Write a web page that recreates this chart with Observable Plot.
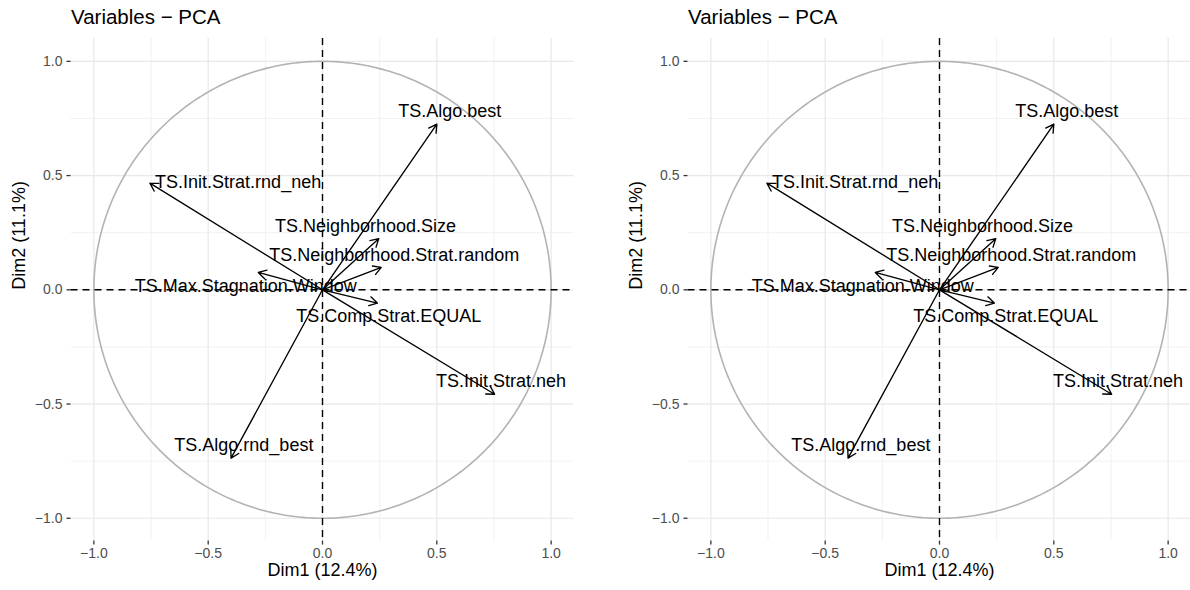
<!DOCTYPE html>
<html>
<head>
<meta charset="utf-8">
<script src="https://cdn.jsdelivr.net/npm/d3@7"></script>
<script src="https://cdn.jsdelivr.net/npm/@observablehq/plot@0.6"></script>
<style>
  html, body { margin: 0; padding: 0; background: #fff; width: 1190px; height: 590px; overflow: hidden; }
  .panel { position: absolute; top: 0; width: 595px; height: 590px; }
  .title { position: absolute; left: 71px; top: 7px; font: 20.5px "Liberation Sans", Arial, sans-serif; line-height: 1; color: #000; white-space: nowrap; }
  .chart { position: absolute; left: 0; top: 30px; }
</style>
</head>
<body>
<div id="root"></div>
<script>
// ---- data ----
const variableNames = [
  "TS.Algo.best",
  "TS.Init.Strat.rnd_neh",
  "TS.Neighborhood.Size",
  "TS.Neighborhood.Strat.random",
  "TS.Max.Stagnation.Window",
  "TS.Comp.Strat.EQUAL",
  "TS.Init.Strat.neh",
  "TS.Algo.rnd_best"
];
const dim1 = [0.500, -0.755, 0.246, 0.257, -0.281, 0.240, 0.753, -0.400];
const dim2 = [0.725, 0.467, 0.224, 0.098, 0.076, -0.058, -0.457, -0.737];
// repelled label positions, in data units
const labelDim1 = [0.557, -0.369, 0.188, 0.314, -0.336, 0.290, 0.781, -0.344];
const labelDim2 = [0.780, 0.470, 0.277, 0.152, 0.017, -0.114, -0.402, -0.681];
const majorTicks = [-1, -0.5, 0, 0.5, 1];
const minorTicks = [-0.75, -0.25, 0.25, 0.75];
const titleText = "Variables \u2212 PCA";
const xTitle = "Dim1 (12.4%)";
const yTitle = "Dim2 (11.1%)";

const rows = variableNames.map((name, i) => ({
  name, dim1: dim1[i], dim2: dim2[i], lx: labelDim1[i], ly: labelDim2[i]
}));
// unit correlation circle
const circle = d3.range(0, 361, 1).map(a => ({cx: Math.cos(a * Math.PI / 180), cy: Math.sin(a * Math.PI / 180)}));

const fmt = d3.format(".1f");
const FONT = '"Liberation Sans", Arial, sans-serif';

function makePlot() {
  return Plot.plot({
    width: 595,
    height: 560,
    marginTop: 8,
    marginBottom: 49.4,
    marginLeft: 70.5,
    marginRight: 21.5,
    x: {domain: [-1.1, 1.1]},
    y: {domain: [-1.1, 1.1]},
    style: {fontFamily: FONT, background: "transparent", overflow: "visible"},
    marks: [
      Plot.ruleX(minorTicks, {stroke: "#ececec", strokeWidth: 0.7}),
      Plot.ruleY(minorTicks, {stroke: "#ececec", strokeWidth: 0.7}),
      Plot.ruleX(majorTicks, {stroke: "#e8e8e8", strokeWidth: 1.2}),
      Plot.ruleY(majorTicks, {stroke: "#e8e8e8", strokeWidth: 1.2}),
      Plot.axisX({ticks: majorTicks, tickFormat: fmt, tickSize: 4, tickPadding: 3, fontSize: 14, stroke: "#333", strokeWidth: 1.3, fill: "#4d4d4d", label: null}),
      Plot.axisY({ticks: majorTicks, tickFormat: fmt, tickSize: 4, tickPadding: 4.5, fontSize: 14, stroke: "#333", strokeWidth: 1.3, fill: "#4d4d4d", label: null}),
      Plot.line(circle, {x: "cx", y: "cy", stroke: "#b3b3b3", strokeWidth: 1.6}),
      Plot.ruleX([0], {stroke: "#000", strokeWidth: 1.4, strokeDasharray: "7,5"}),
      Plot.ruleY([0], {stroke: "#000", strokeWidth: 1.4, strokeDasharray: "7,5"}),
      Plot.arrow(rows, {x1: () => 0, y1: () => 0, x2: "dim1", y2: "dim2", stroke: "#000", strokeWidth: 1.35, headLength: 10, headAngle: 60}),
      Plot.text(rows, {x: "lx", y: "ly", text: "name", fontSize: 18, fill: "#000"}),
      Plot.text([xTitle], {text: d => d, frameAnchor: "bottom", dy: 34.7, fontSize: 18, fill: "#000"}),
      Plot.text([yTitle], {text: d => d, frameAnchor: "left", rotate: -90, dx: -52, fontSize: 18, fill: "#000"})
    ]
  });
}

const root = document.getElementById("root");
[0, 617].forEach(left => {
  const panel = document.createElement("div");
  panel.className = "panel";
  panel.style.left = left + "px";
  const title = document.createElement("div");
  title.className = "title";
  title.textContent = titleText;
  panel.appendChild(title);
  const chart = document.createElement("div");
  chart.className = "chart";
  chart.appendChild(makePlot());
  panel.appendChild(chart);
  root.appendChild(panel);
});
</script>
</body>
</html>
